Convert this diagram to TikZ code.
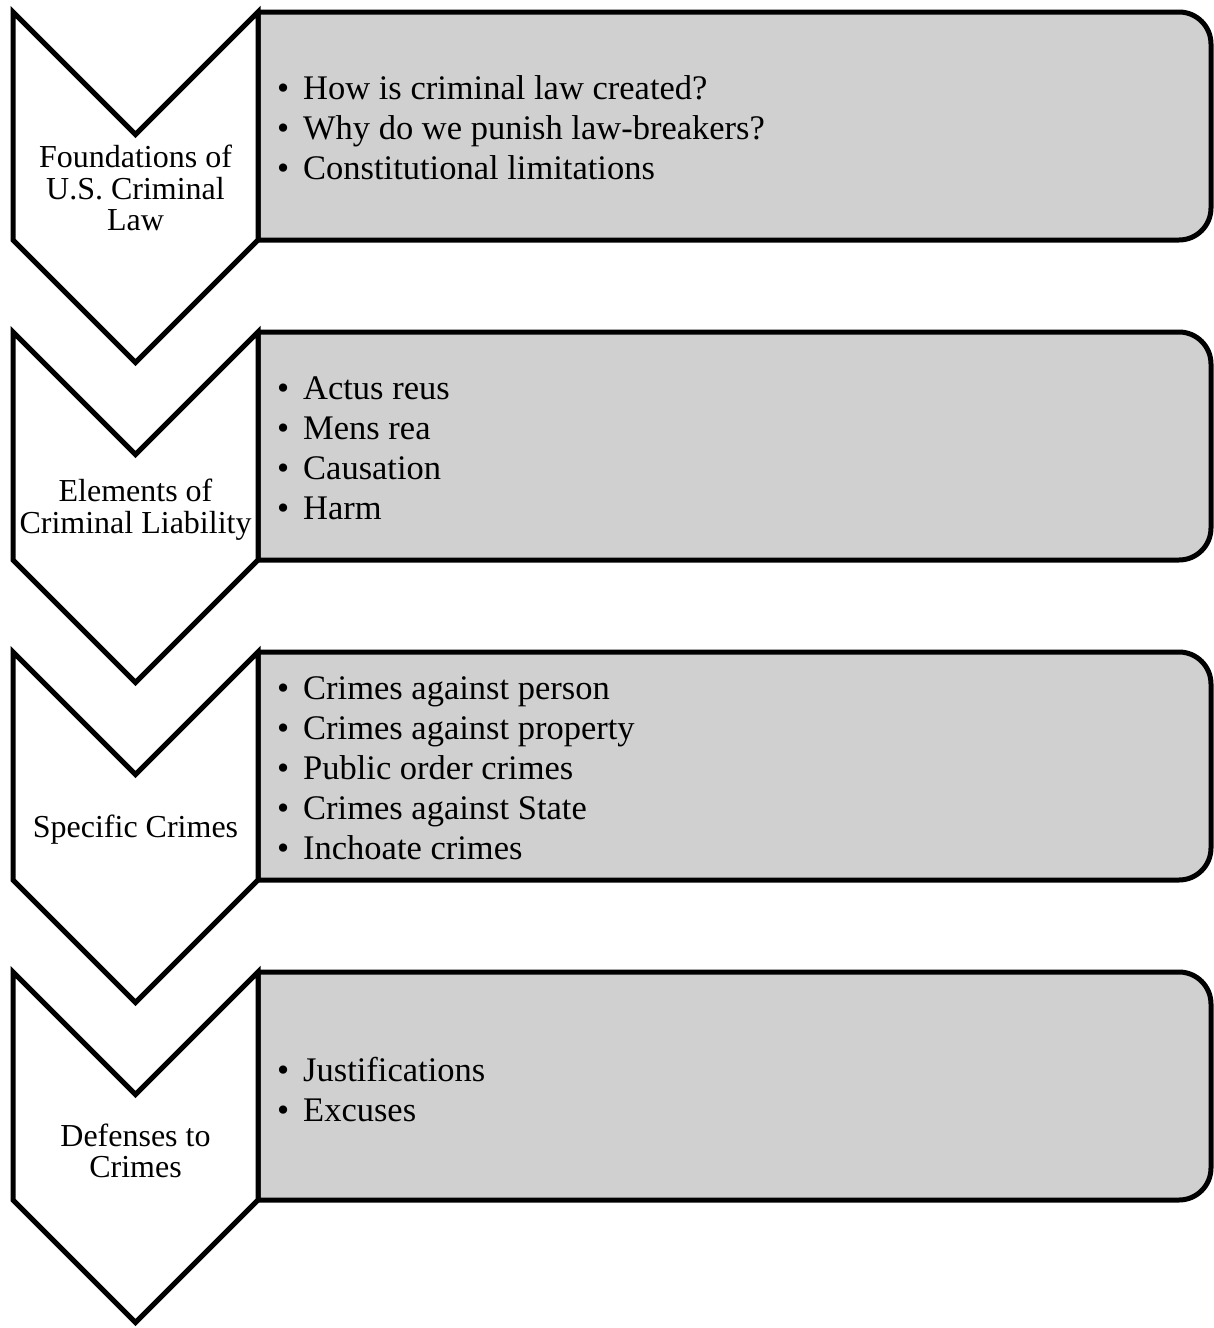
\documentclass[tikz,border=0pt]{standalone}
\usepackage{fontspec}
\setmainfont{Liberation Serif}
\definecolor{boxgray}{RGB}{208,208,208}
\tikzset{
  chev/.style={draw=black, fill=white, line width=5pt, line join=miter},
  gbox/.style={draw=black, fill=boxgray, line width=5pt, line join=round},
  chevtext/.style={align=center, font=\fontsize{32}{31.5}\selectfont, inner sep=0pt},
  boxtext/.style={align=left, font=\fontsize{34.5}{40}\selectfont, inner sep=0pt, anchor=west},
}
\newcommand\bul{\makebox[26pt][l]{\textbullet}}
\newcommand\stageshapes[1]{%
  \begin{scope}[yshift=#1]
    \path[gbox] (258,-12) -- (1179,-12) arc[start angle=90,end angle=0,radius=32]
      -- (1211,-208) arc[start angle=0,end angle=-90,radius=32] -- (258,-240) -- cycle;
    \path[chev] (13,-12) -- (135.5,-134.5) -- (258,-12) -- (258,-240)
      -- (135.5,-362.5) -- (13,-240) -- cycle;
  \end{scope}}
\begin{document}
\begin{tikzpicture}[x=1pt,y=1pt]
\useasboundingbox (0,0) rectangle (1214,-1328);
\stageshapes{0pt}
\stageshapes{-320pt}
\stageshapes{-640pt}
\stageshapes{-960pt}
\node[chevtext] (stage1) at (135.5,-188) {Foundations of\\U.S. Criminal\\Law};
\node[chevtext] (stage2) at (135.5,-509.5) {Elements of\\Criminal Liability};
\node[chevtext] (stage3) at (135.5,-830) {Specific Crimes};
\node[chevtext] (stage4) at (135.5,-1151) {Defenses to\\Crimes};
\node[boxtext] (items1) at (277,-128) {\bul How is criminal law created?\\\bul Why do we punish law-breakers?\\\bul Constitutional limitations};
\node[boxtext] (items2) at (277,-448) {\bul Actus reus\\\bul Mens rea\\\bul Causation\\\bul Harm};
\node[boxtext] (items3) at (277,-768) {\bul Crimes against person\\\bul Crimes against property\\\bul Public order crimes\\\bul Crimes against State\\\bul Inchoate crimes};
\node[boxtext] (items4) at (277,-1090) {\bul Justifications\\\bul Excuses};
\end{tikzpicture}
\end{document}
